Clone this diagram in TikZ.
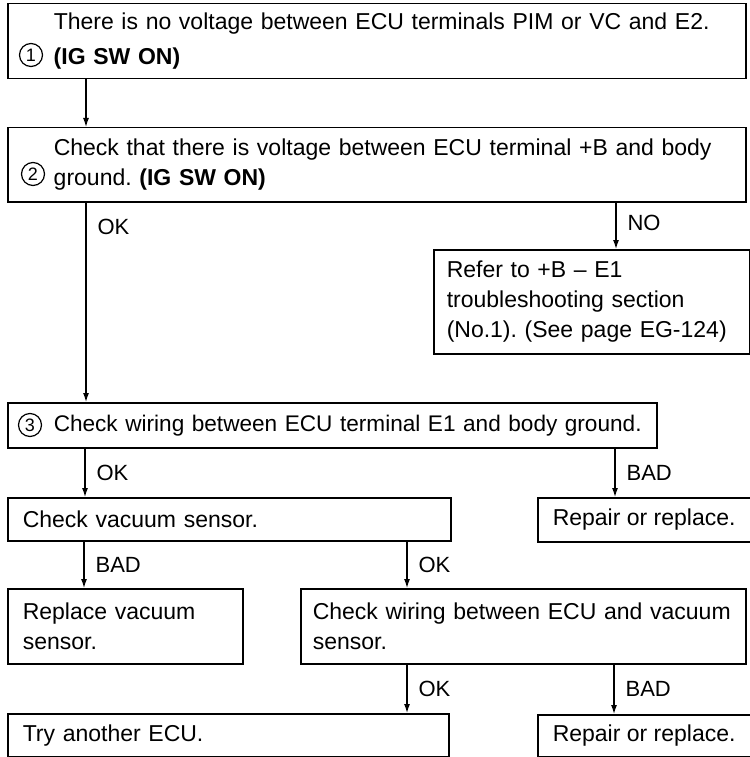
\documentclass[tikz,border=0pt]{standalone}
\usepackage{fontspec}
\setmainfont{Liberation Sans}
\usepackage{tikz}
\usetikzlibrary{arrows.meta,positioning}

\begin{document}
\begin{tikzpicture}[
    x=1pt, y=-1pt,
    box/.style={rectangle, draw, line width=1.5pt, anchor=north west, align=left, inner xsep=15pt, inner ysep=0pt, font=\fontsize{23}{30}\selectfont\frenchspacing},
    numbox/.style={box, inner xsep=10pt},
    repbox/.style={box, align=center, minimum width=206pt},
    circnum/.style={circle, draw, line width=1.2pt, minimum size=23pt, inner sep=0pt, font=\fontsize{18}{18}\selectfont},
    lbl/.style={anchor=west, inner sep=0pt, xshift=11pt, font=\fontsize{22}{22}\selectfont},
    line/.style={draw, -{Latex[length=9pt,width=6pt]}, line width=1.2pt}
]
    \useasboundingbox (0,0) rectangle (749,757);

    % Step 1 and 2
    \node [numbox, text width=718pt, minimum height=75pt] (step1) at (7,3) {\hspace*{36pt}There is no voltage between ECU terminals PIM or VC and E2.\\[5pt]\hspace*{36pt}\textbf{(IG SW ON)}};
    \node [circnum] (num1) at (31,55) {1};
    \node [numbox, text width=718pt, minimum height=74pt] (step2) at (7,127) {\hspace*{36pt}Check that there is voltage between ECU terminal +B and body\\\hspace*{36pt}ground. \textbf{(IG SW ON)}};
    \node [circnum] (num2) at (33,174) {2};
    \path [line] ([xshift=79pt]step1.south west) -- ([xshift=79pt]step2.north west);

    % NO branch
    \node [box, inner xsep=13pt, text width=290pt, minimum height=104pt] (refer) at (433,249) {\mbox{Refer to +B -- E1}\\\mbox{troubleshooting section}\\\mbox{(No.1). (See page EG-124)}};
    \path [line] ([xshift=609pt]step2.south west) -- node [lbl, pos=0.45] {NO} ([xshift=183pt]refer.north west);

    % Step 3
    \node [numbox, inner xsep=6pt, text width=637pt, minimum height=45pt, font=\fontsize{22.6}{30}\selectfont] (step3) at (7,402) {\hspace*{40pt}\mbox{Check wiring between ECU terminal E1 and body ground.}};
    \node [circnum] (num3) at (30,425) {3};
    \path [line] ([xshift=79pt]step2.south west) -- node [lbl, pos=0.12] {OK} ([xshift=79pt]step3.north west);

    % Vacuum sensor
    \node [box, text width=413pt, minimum height=43pt] (vacuum) at (7,497) {Check vacuum sensor.};
    \node [repbox, minimum height=44pt] (repair1) at (537,497) {Repair or replace.};
    \path [line] ([xshift=78pt]step3.south west) -- node [lbl] {OK} ([xshift=78pt]vacuum.north west);
    \path [line] ([xshift=608pt]step3.south west) -- node [lbl] {BAD} ([xshift=78pt]repair1.north west);

    % Sensor and wiring
    \node [box, text width=205pt, minimum height=75pt] (replace) at (7,588) {Replace vacuum\\sensor.};
    \node [box, inner xsep=12pt, text width=421pt, minimum height=75pt] (wiring) at (300,588) {\mbox{Check wiring between ECU and vacuum}\\sensor.};
    \path [line] ([xshift=77pt]vacuum.south west) -- node [lbl] {BAD} ([xshift=77pt]replace.north west);
    \path [line] ([xshift=400pt]vacuum.south west) -- node [lbl] {OK} ([xshift=107pt]wiring.north west);

    % Last step
    \node [box, text width=411pt, minimum height=43pt] (ecu) at (7,713) {Try another ECU.};
    \node [repbox, minimum height=42pt] (repair2) at (537,714) {Repair or replace.};
    \path [line] ([xshift=107pt]wiring.south west) -- node [lbl] {OK} ([xshift=400pt]ecu.north west);
    \path [line] ([xshift=314pt]wiring.south west) -- node [lbl] {BAD} ([xshift=77pt]repair2.north west);

\end{tikzpicture}
\end{document}
